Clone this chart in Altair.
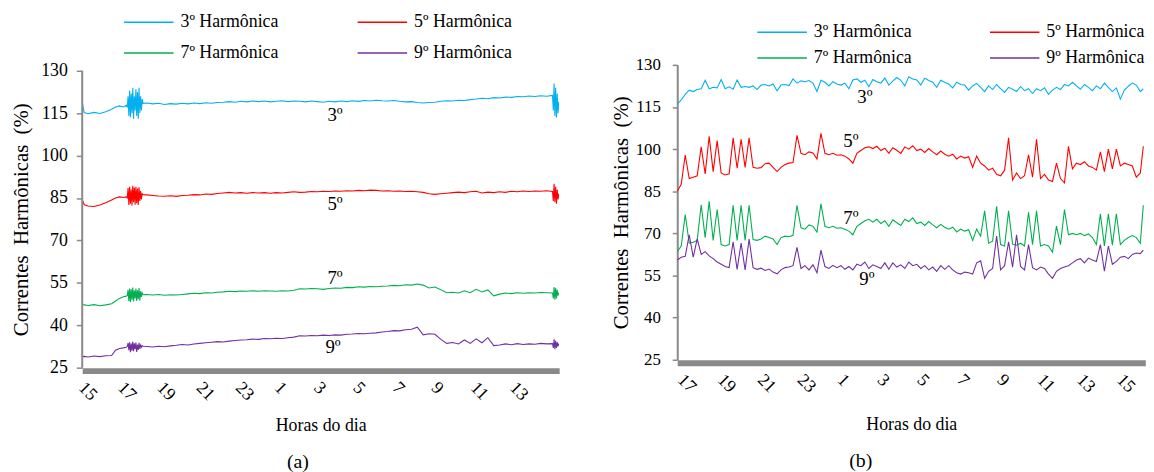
import altair as alt
import pandas as pd

SERIES = ["3º Harmônica", "5º Harmônica", "7º Harmônica", "9º Harmônica"]
COLORS = ["#00B0F0", "#FF0000", "#00B050", "#7030A0"]
ANN_LABELS = ["3º", "5º", "7º", "9º"]

X_TICKS = [0, 2, 4, 6, 8, 10, 12, 14, 16, 18, 20, 22]
Y_TICKS = [25, 40, 55, 70, 85, 100, 115, 130]

# ---------------- panel (a): hours elapsed since 15:00 ----------------
TA = [0.0, 0.1, 0.3, 0.6, 0.9, 1.2, 1.5, 1.7, 1.9, 2.1, 2.25,
      2.30, 2.34, 2.38, 2.42, 2.46, 2.50, 2.54, 2.58, 2.62, 2.66, 2.70,
      2.74, 2.78, 2.82, 2.86, 2.90, 2.94, 2.98, 3.02, 3.06, 3.10,
      3.3, 3.6, 3.9, 4.2, 4.5, 4.8, 5.1, 5.4, 5.7, 6.0,
      6.3, 6.6, 6.9, 7.2, 7.5, 7.8, 8.1, 8.4, 8.7, 9.0,
      9.3, 9.6, 9.9, 10.2, 10.5, 10.8, 11.1, 11.4, 11.7, 12.0,
      12.3, 12.6, 12.9, 13.2, 13.5, 13.8, 14.1, 14.4, 14.7, 15.0,
      15.3, 15.6, 15.9, 16.2, 16.5, 16.8, 17.1, 17.4, 17.7, 18.0,
      18.3, 18.6, 18.9, 19.2, 19.5, 19.8, 20.1, 20.4, 20.7, 21.0,
      21.3, 21.6, 21.9, 22.2, 22.5, 22.8, 23.1, 23.4, 23.7, 24.0,
      24.04, 24.08, 24.12, 24.16, 24.20, 24.24, 24.28, 24.32]

A3 = [119.0, 115.2, 114.8, 115.3, 114.9, 115.5, 116.4, 117.2, 117.6, 117.2, 117.8,
      117, 121, 114, 123, 113.5, 122, 115, 124, 113, 121, 116,
      123.5, 114, 122.5, 113, 124, 115, 121, 116, 120, 118.5,
      118.6, 118.3, 118.5, 118.1, 118.4, 118.2, 118.5, 118.3, 118.6, 118.4,
      118.7, 118.5, 118.8, 118.9, 119.1, 118.9, 119.2, 119.0, 119.3, 119.1,
      119.3, 119.0, 119.2, 119.4, 119.1, 119.3, 119.2, 119.0, 119.3, 119.1,
      118.9, 119.2, 119.0, 119.3, 119.1, 119.4, 119.2, 119.5, 119.3, 119.6,
      119.4, 119.3, 119.5, 119.2, 119.0, 119.1, 118.8, 118.6, 118.8, 118.9,
      119.2, 119.4, 119.3, 119.6, 119.5, 119.8, 120.0, 120.3, 120.1, 120.5,
      120.4, 120.7, 120.6, 120.9, 120.8, 121.1, 120.9, 121.2, 121.0, 121.3,
      116, 125.5, 114, 124, 113.5, 122, 115, 119]

A5 = [84.5, 82.6, 82.2, 82.0, 82.5, 83.3, 84.3, 85.0, 85.4, 85.2, 85.4,
      85, 88.5, 82.5, 89, 83, 88, 82.4, 89.3, 83.5, 88.7, 82.6,
      89, 83.2, 88.4, 82.5, 88.8, 84, 87.5, 84.5, 86.5, 86.2,
      86.1, 85.9, 85.7, 85.6, 85.8, 85.6, 85.9, 86.0, 86.2, 86.1,
      86.4, 86.3, 86.6, 86.8, 87.0, 86.8, 86.9, 86.7, 86.9, 86.8,
      86.9, 86.7, 86.9, 86.8, 87.0, 87.2, 87.0, 87.1, 87.3, 87.2,
      87.4, 87.3, 87.5, 87.4, 87.6, 87.5, 87.7, 87.6, 87.8, 87.7,
      87.5, 87.6, 87.4, 87.5, 87.3, 87.4, 87.2, 87.0, 86.5, 86.3,
      86.5, 86.7, 86.9, 87.1, 86.9, 87.2, 87.4, 86.8, 87.1, 86.9,
      87.2, 87.0, 87.4, 87.2, 87.5, 87.3, 87.5, 87.4, 87.6, 87.3,
      84, 90, 83.5, 89, 83, 88, 84.5, 86.5]

A7 = [47.5, 47.2, 47.0, 47.3, 46.9, 47.2, 47.6, 48.6, 49.5, 50.1, 50.3,
      50.5, 52.5, 48.5, 53, 48.2, 52.7, 49, 53.3, 48.4, 52.3, 49.5,
      53, 48.6, 52.4, 49.2, 53.2, 48.8, 52, 50, 51.5, 50.8,
      50.9, 50.7, 50.9, 50.6, 50.8, 50.7, 50.9, 51.1, 51.3, 51.2,
      51.5, 51.4, 51.7, 51.8, 52.0, 51.9, 52.1, 52.0, 52.2, 52.0,
      52.2, 52.1, 52.0, 52.2, 52.1, 52.4, 52.9, 52.8, 53.0, 52.9,
      52.7, 53.0, 53.2, 53.1, 53.4, 53.3, 53.6, 53.5, 53.7, 53.6,
      53.8, 53.9, 54.1, 54.0, 54.3, 54.2, 54.6, 54.2, 53.2, 53.5,
      52.6, 51.5, 51.7, 51.4, 52.2, 51.5, 52.7, 51.8, 52.5, 50.4,
      51.0, 51.4, 51.2, 51.5, 51.3, 51.5, 51.4, 51.6, 51.5, 51.4,
      49.5, 53.5, 49, 53.2, 49.5, 52.5, 50.5, 51.5]

A9 = [28.9, 29.0, 28.8, 29.1, 28.9, 29.2, 29.3, 31.2, 31.8, 32.0, 32.2,
      32.5, 33.8, 31.2, 34, 30.5, 33.5, 31, 34.2, 30.8, 33.6, 31.5,
      33.9, 30.6, 33.2, 31.3, 33.8, 31.6, 33, 32.2, 32.8, 32.6,
      32.5, 32.3, 32.6, 32.4, 32.7, 32.9, 33.2, 33.0, 33.4, 33.6,
      33.8, 34.0, 34.2, 34.1, 34.4, 34.6, 34.8, 34.9, 35.1, 35.0,
      35.3, 35.2, 35.4, 35.3, 35.6, 35.8, 36.3, 36.2, 36.4, 36.3,
      36.5, 36.4, 36.6, 36.5, 36.8, 36.9, 37.1, 37.0, 37.2, 37.3,
      37.6, 37.8, 38.1, 38.0, 38.4, 38.6, 39.3, 36.6, 37.0, 36.8,
      35.0, 33.6, 33.9, 33.4, 34.8, 33.6, 35.2, 33.8, 35.6, 32.8,
      33.0, 33.4, 33.1, 33.5, 33.2, 33.4, 33.3, 33.6, 33.4, 33.5,
      32, 35, 31.5, 34.5, 32, 34, 32.5, 33.5]

ANN_A_T = [12.9, 12.9, 12.9, 12.8]
ANN_A_V = [114.3, 82.7, 56.8, 32.3]

# ---------------- panel (b): hours elapsed since 17:00 ----------------
TB = [0.0, 0.2, 0.4, 0.6, 0.8, 1.0, 1.2, 1.4, 1.6, 1.8,
      2.0, 2.2, 2.4, 2.6, 2.8, 3.0, 3.2, 3.4, 3.6, 3.8,
      4.0, 4.2, 4.4, 4.6, 4.8, 5.0, 5.2, 5.4, 5.6, 5.8,
      6.0, 6.2, 6.4, 6.6, 6.8, 7.0, 7.2, 7.4, 7.6, 7.8,
      8.0, 8.2, 8.4, 8.6, 8.8, 9.0, 9.2, 9.4, 9.6, 9.8,
      10.0, 10.2, 10.4, 10.6, 10.8, 11.0, 11.2, 11.4, 11.6, 11.8,
      12.0, 12.2, 12.4, 12.6, 12.8, 13.0, 13.2, 13.4, 13.6, 13.8,
      14.0, 14.2, 14.4, 14.6, 14.8, 15.0, 15.2, 15.4, 15.6, 15.8,
      16.0, 16.2, 16.4, 16.6, 16.8, 17.0, 17.2, 17.4, 17.6, 17.8,
      18.0, 18.2, 18.4, 18.6, 18.8, 19.0, 19.2, 19.4, 19.6, 19.8,
      20.0, 20.2, 20.4, 20.6, 20.8, 21.0, 21.2, 21.4, 21.6, 21.8,
      22.0, 22.2, 22.4, 22.6, 22.8, 23.0, 23.2, 23.35]

B3 = [116, 117.5, 119.5, 121, 120.5, 121.2, 121.5, 124.5, 121.5, 122,
      121.8, 124.8, 121.5, 122.2, 121.3, 124.6, 122, 122.3, 122, 122.5,
      121.2, 122.8, 123, 122.5, 123.2, 120.8, 122.8, 123, 122.6, 125,
      123.5, 124.3, 124, 124.4, 123.5, 120.5, 124.5, 123.8, 122.5, 124,
      123.2, 122.8, 123.5, 121.5, 124.6, 125, 123.8, 124.5, 122.2, 124.8,
      124, 123.5, 125.3, 122.8, 124.2, 125.5, 124.5, 122.5, 125.8, 125,
      124.6, 122.8, 125.2, 124.4, 123.8, 122, 124.5, 123.8, 123.2, 121.8,
      123.8, 123, 122.8, 121, 122.5, 123.4, 122, 120.5, 122.5, 121.2,
      123, 121.5, 120.2, 122, 121.3, 120.5, 122.3, 120.8, 121.5, 119.8,
      121.5, 120.8, 121.8, 119.5, 121, 122, 121.2, 123, 122.5, 123.8,
      122.5, 121.3, 123, 122, 120.8, 122.5, 121.5, 123.5, 122, 120.5,
      121.8, 117.8, 121, 122.4, 123.5, 122.8, 120.5, 121.5]

B5 = [85, 87.5, 97.9, 89.5, 90, 90.5, 100.8, 91.2, 104.6, 92,
      103, 91.5, 90.8, 91.2, 104, 93.2, 103.5, 93.5, 104, 93.5,
      93.2, 93.4, 94.8, 95, 93.5, 92, 93.5, 94.5, 95, 95.2,
      104.9, 98.5, 98, 99, 98.6, 96.5, 105.6, 98.5, 98, 98.5,
      97.8, 98, 97.5, 96.5, 95, 98.5, 99.5, 100.5, 100.8, 100.2,
      101, 99.5, 100.3, 98.5, 100.5, 99.6, 98.5, 100.8, 100, 101.2,
      99.5, 100, 98.8, 100.2, 99, 98, 99.3, 98.2, 97.5, 98.2,
      96.5, 97.5, 96.8, 97.3, 93.5, 97.5, 95, 94, 92.5, 93.2,
      91, 90.5, 92.5, 104, 89, 91.5, 89.5, 90.5, 98, 90,
      103.5, 89.5, 91, 89, 88.5, 95, 89.5, 88, 101, 93,
      95, 94.5, 95.5, 94, 93.5, 92.5, 99, 92, 100, 93,
      100, 94, 95, 94.5, 94, 90, 91.5, 101]

B7 = [63.5, 65.5, 76.7, 66.5, 66.8, 67.5, 80.2, 68.5, 81.4, 67.5,
      78.5, 66, 65.5, 66, 80, 67.5, 80, 67.5, 80, 67.8,
      67.5, 68, 69, 68.5, 68, 66, 68.5, 69, 68.8, 69.3,
      80, 72, 71.5, 73, 72.5, 70.5, 80.5, 72.5, 72, 72.5,
      71.8, 72, 71.5, 70.8, 69.5, 72.5, 73.5, 74.5, 75, 74,
      75, 73.5, 74.5, 72.5, 74.8, 73.8, 72.8, 75, 74.2, 75.5,
      73.5, 74, 72.8, 74.2, 73, 72, 73.2, 72.2, 71.5, 72.2,
      70.5, 71.5, 70.8, 71.3, 67.5, 71.5, 69, 78, 66.5, 67.2,
      79.6, 66, 65.5, 78, 66.2, 65.8, 66.5, 65.5, 77.5, 66,
      78, 65.5, 66, 65.5, 63.3, 72.6, 66, 78.5, 69.5, 70,
      69.5, 70, 69.2, 69.8, 68.5, 66, 77, 65.5, 77, 65.8,
      77, 66, 67.5, 68.5, 69.2, 68.5, 66.5, 80]

B9 = [60.5, 61.5, 61.8, 69.5, 61.5, 68, 62.5, 63.5, 62, 61,
      59.8, 59, 58.2, 57.8, 67, 57.2, 66.5, 57, 68, 57.8,
      57.2, 57.6, 56.8, 57.3, 56.2, 55.6, 57, 57.8, 58, 58.5,
      65, 57.5, 58.5, 57, 58.8, 56, 64, 58.2, 57.5, 58.6,
      57.8, 58.5, 57.2, 58.2, 57, 59, 58.5, 59.8, 57.5, 58.8,
      58.2, 57.5, 59.5, 57.2, 59.5, 58, 58.8, 57.5, 59.8, 58.5,
      59, 57.5, 58.5, 57, 58, 56.5, 58.5, 57.2, 58.5, 57,
      56, 55.5, 56.2, 56, 55.5, 59.5, 60.2, 54, 56.5, 57.5,
      69, 57, 58.5, 67, 58, 69.5, 58.2, 57, 66, 57.8,
      57, 58, 57.5, 55.5, 54, 56.5, 57.5, 58, 58.5, 59.5,
      60.5, 61, 59.5, 61.2, 60.5, 60, 66, 56.5, 65.5, 59,
      60, 61.5, 61.8, 61, 62.5, 63, 62.8, 64]

ANN_B_T = [9.4, 8.7, 8.7, 9.5]
ANN_B_V = [118.7, 102.9, 75.4, 53.8]

for s in (A3, A5, A7, A9):
    assert len(s) == len(TA), (len(s), len(TA))
for s in (B3, B5, B7, B9):
    assert len(s) == len(TB), (len(s), len(TB))

FONT = "Liberation Serif"
GREY = "#898989"
Y_TITLE = "Correntes\u00a0\u00a0Harmônicas\u00a0\u00a0(%)"


def long_df(times, cols):
    rows = []
    for name, vals in zip(SERIES, cols):
        for t, v in zip(times, vals):
            rows.append({"t": t, "v": v, "serie": name})
    return pd.DataFrame(rows)


def panel(times, cols, ann_t, ann_v, start_hour, x_max, y_max, width, height,
          legend_x, legend_y, col_pad, row_pad, tick_size, label_pad,
          y_label_size, title_x, title_y, x_title_y, x_label_offset,
          y_domain_line, caption, caption_dx):
    df = long_df(times, cols)
    x_enc = alt.X(
        "t:Q",
        scale=alt.Scale(domain=[0, x_max], nice=False, zero=False),
        axis=alt.Axis(
            values=X_TICKS, labelExpr=f"(datum.value + {start_hour}) % 24",
            title="Horas do dia", labelAngle=45, labelAlign="left",
            labelBaseline="top", labelPadding=8, labelOffset=x_label_offset,
            ticks=False, tickSize=0,
            domainColor=GREY, domainWidth=6, offset=3, grid=False,
            labelFont=FONT, labelFontSize=18, labelOverlap=False,
            labelFlush=False, labelColor="black",
            titleFont=FONT, titleFontSize=18, titleFontWeight="normal",
            titleColor="black", titleY=x_title_y, titleBaseline="alphabetic",
        ),
    )
    y_enc = alt.Y(
        "v:Q",
        scale=alt.Scale(domain=[25, y_max], nice=False, zero=False),
        axis=alt.Axis(
            values=Y_TICKS, domain=y_domain_line, domainColor=GREY,
            domainWidth=2, tickColor=GREY, tickSize=tick_size, tickWidth=1.5,
            labelPadding=label_pad, grid=False, labelFont=FONT,
            labelFontSize=y_label_size, labelColor="black",
            title=Y_TITLE, titleFont=FONT, titleFontSize=21,
            titleFontWeight="normal", titleColor="black",
            titleX=title_x, titleY=title_y,
            titleBaseline="alphabetic", titleAlign="center",
        ),
    )
    lines = alt.Chart(df).mark_line(strokeWidth=1.1, clip=True).encode(
        x=x_enc, y=y_enc,
        color=alt.Color(
            "serie:N",
            scale=alt.Scale(domain=SERIES, range=COLORS),
            legend=alt.Legend(
                orient="none", legendX=legend_x, legendY=legend_y,
                direction="horizontal", columns=2, columnPadding=col_pad,
                rowPadding=row_pad, clipHeight=18,
                symbolType="stroke", symbolSize=2500, symbolStrokeWidth=1.5,
                labelFont=FONT, labelFontSize=18, labelOffset=6,
                labelColor="black", labelLimit=0, title=None, padding=0,
            ),
        ),
        detail="serie:N",
    )
    ann_df = pd.DataFrame({"t": ann_t, "v": ann_v, "label": ANN_LABELS})
    ann = alt.Chart(ann_df).mark_text(
        font=FONT, fontSize=19, align="center", baseline="middle", color="black"
    ).encode(x=x_enc, y=y_enc, text="label:N")
    layers = [lines, ann]
    if not y_domain_line:
        axis_df = pd.DataFrame({"t": [0, 0], "v": [Y_TICKS[0], Y_TICKS[-1]]})
        axis_line = alt.Chart(axis_df).mark_line(
            color=GREY, strokeWidth=2, clip=False
        ).encode(x=x_enc, y=y_enc)
        layers.append(axis_line)
    return alt.layer(*layers).properties(
        width=width, height=height,
        title=alt.TitleParams(
            caption, orient="bottom", anchor="middle", dx=caption_dx,
            offset=18, font=FONT, fontSize=20, fontWeight="normal",
            color="black",
        ),
    )


panel_a = panel(TA, [A3, A5, A7, A9], ANN_A_T, ANN_A_V, 15, 24.34, 132.1,
                482, 306, 41.3, -52, 78, 13, 6, 9, 18, -55, 156, 60, 5, False,
                "(a)", -23)
panel_b = panel(TB, [B3, B5, B7, B9], ANN_B_T, ANN_B_V, 17, 23.45, 130,
                473, 298, 80, -42, 77, 8, 5, 12, 17, -50, 149, 67, 9, True,
                "(b)", -51)

chart = alt.hconcat(panel_a, panel_b, spacing=119.3, bounds="flush").resolve_scale(
    color="independent"
).resolve_legend(color="independent").properties(
    padding={"left": 3, "top": 3, "right": 0, "bottom": 0}
).configure(font=FONT).configure_view(stroke=None)

chart.save("out.html", embed_options={"renderer": "svg", "actions": False})
